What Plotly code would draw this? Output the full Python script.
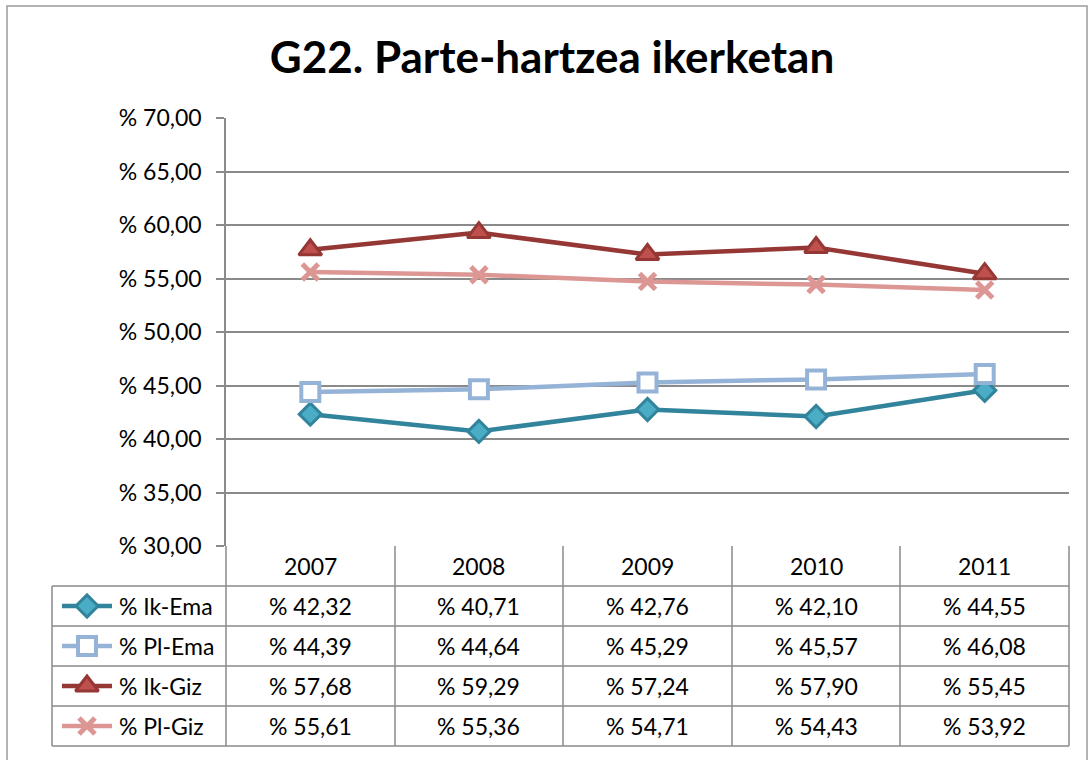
import plotly.graph_objects as go

years = ["2007", "2008", "2009", "2010", "2011"]
series_names = ["% Ik-Ema", "% Pl-Ema", "% Ik-Giz", "% Pl-Giz"]
ik_ema = [42.32, 40.71, 42.76, 42.10, 44.55]
pl_ema = [44.39, 44.64, 45.29, 45.57, 46.08]
ik_giz = [57.68, 59.29, 57.24, 57.90, 55.45]
pl_giz = [55.61, 55.36, 54.71, 54.43, 53.92]
y_ticks = [30, 35, 40, 45, 50, 55, 60, 65, 70]

W, H = 1089, 760
FONT = "Lato"
GRID = "#8a8a8a"

def px(x):
    return x / W

def py(y):
    return 1 - y / H

def fmt(v):
    return "% " + f"{v:.2f}".replace(".", ",")

styles = [
    dict(line=dict(color="#31849B", width=4.5),
         marker=dict(symbol="diamond", size=17, color="#4BACC6", line=dict(color="#31849B", width=3))),
    dict(line=dict(color="#95B3D7", width=4.5),
         marker=dict(symbol="square", size=18, color="white", line=dict(color="#95B3D7", width=4))),
    dict(line=dict(color="#953735", width=4.5),
         marker=dict(symbol="triangle-up", size=20, color="#C0504D", line=dict(color="#953735", width=3))),
    dict(line=dict(color="#DC9794", width=4.5),
         marker=dict(symbol="x-thin", size=16, color="#DC9794", line=dict(color="#DC9794", width=5))),
]
data = [ik_ema, pl_ema, ik_giz, pl_giz]

fig = go.Figure()
xs = list(range(len(years)))
for name, vals, st in zip(series_names, data, styles):
    fig.add_trace(go.Scatter(x=xs, y=vals, name=name, mode="lines+markers",
                             line=st["line"], marker=st["marker"], showlegend=False,
                             cliponaxis=False))

# plot area pixel bounds
L, R, T, B = 226, 1069, 118, 546
rows_y = [546, 586, 626, 666, 706, 746]
col_x = [226, 395, 563, 732, 900, 1069]
leg_left = 52

shapes = []
line_style = dict(color=GRID, width=1.5)
# outer chart border
shapes.append(dict(type="rect", xref="paper", yref="paper", x0=px(7), x1=px(1087), y0=py(770), y1=py(6),
                   line=dict(color="#9a9a9a", width=1.5), layer="below"))
# table horizontal lines
for ry in rows_y[1:]:
    shapes.append(dict(type="line", xref="paper", yref="paper", x0=px(leg_left), x1=px(R),
                       y0=py(ry), y1=py(ry), line=line_style))
# table vertical lines
for cx in col_x:
    shapes.append(dict(type="line", xref="paper", yref="paper", x0=px(cx), x1=px(cx),
                       y0=py(B), y1=py(rows_y[-1]), line=line_style))
shapes.append(dict(type="line", xref="paper", yref="paper", x0=px(leg_left), x1=px(leg_left),
                   y0=py(rows_y[1]), y1=py(rows_y[-1]), line=line_style))

annotations = []
font_t = dict(family=FONT, size=23, color="black")
# header years
for i, yr in enumerate(years):
    annotations.append(dict(x=i, y=py((rows_y[0] + rows_y[1]) / 2), xref="x", yref="paper",
                            text=yr, showarrow=False, font=font_t, xanchor="center", yanchor="middle"))
# values
for r, vals in enumerate(data):
    yc = py((rows_y[r + 1] + rows_y[r + 2]) / 2)
    for i, v in enumerate(vals):
        annotations.append(dict(x=i, y=yc, xref="x", yref="paper", text=fmt(v), showarrow=False,
                                font=font_t, xanchor="center", yanchor="middle"))
    annotations.append(dict(x=px(117), y=yc, xref="paper", yref="paper", text=series_names[r],
                            showarrow=False, font=font_t, xanchor="left", yanchor="middle"))

# legend keys in table (pixel-space axis)
for r, st in enumerate(styles):
    yc = (rows_y[r + 1] + rows_y[r + 2]) / 2
    fig.add_trace(go.Scatter(x=[62, 112], y=[yc, yc], mode="lines", line=st["line"],
                             xaxis="x2", yaxis="y2", showlegend=False, hoverinfo="skip"))
    fig.add_trace(go.Scatter(x=[87], y=[yc], mode="markers", marker=st["marker"],
                             xaxis="x2", yaxis="y2", showlegend=False, hoverinfo="skip"))

fig.update_layout(
    width=W, height=H, autosize=False,
    margin=dict(l=0, r=0, t=0, b=0, pad=0),
    paper_bgcolor="white", plot_bgcolor="rgba(0,0,0,0)",
    title=dict(text="<b>G22. Parte-hartzea ikerketan</b>", x=px(552), y=py(58),
               xanchor="center", yanchor="middle",
               font=dict(family=FONT, size=44, color="black")),
    xaxis=dict(domain=[px(L), px(R)], range=[-0.5, len(years) - 0.5], showticklabels=False,
               showgrid=False, zeroline=False, showline=False, ticks=""),
    yaxis=dict(domain=[py(B), py(T)], range=[30, 70], tickvals=y_ticks,
               ticktext=[fmt(v) for v in y_ticks], ticks="outside", ticklen=8, tickcolor=GRID,
               tickwidth=1.5, showgrid=True, gridcolor=GRID, gridwidth=1.5, zeroline=False,
               showline=True, linecolor=GRID, linewidth=1.5, automargin=False,
               ticklabelstandoff=10,
               tickfont=dict(family=FONT, size=23, color="black")),
    xaxis2=dict(domain=[0, 1], range=[0, W], visible=False, fixedrange=True, anchor="y2"),
    yaxis2=dict(domain=[0, 1], range=[H, 0], visible=False, fixedrange=True, anchor="x2"),
    shapes=shapes,
    annotations=annotations,
)

fig.write_html("out.html", config={"responsive": False, "displayModeBar": False},
               post_script="document.body.style.margin='0';document.body.style.overflow='hidden';")
